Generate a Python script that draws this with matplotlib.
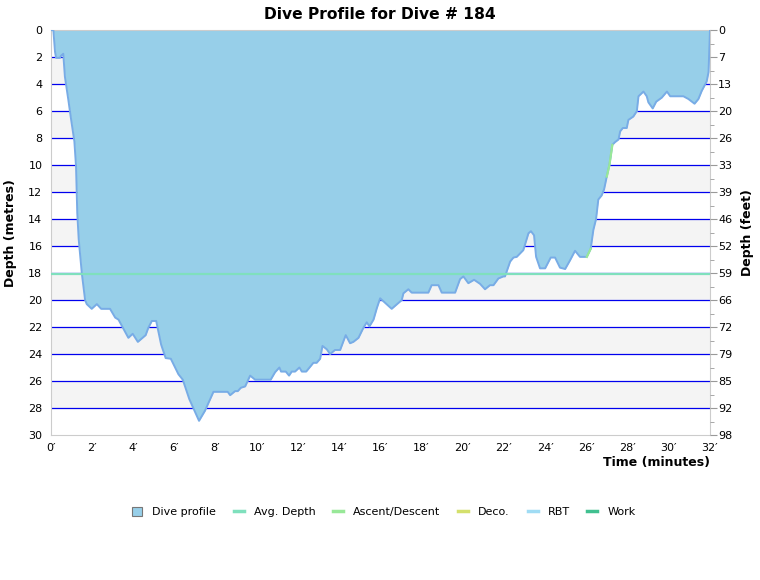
import numpy as np
import matplotlib
matplotlib.use("Agg")
import matplotlib.pyplot as plt
from matplotlib.lines import Line2D
from matplotlib.patches import Patch

# ── data ──
time_min = [0, 0.13, 0.21, 0.26, 0.45, 0.5, 0.61, 0.69, 0.86, 0.97, 1.07, 1.15, 1.23,
            1.29, 1.36, 1.51, 1.67, 1.75, 1.99, 2.24, 2.45, 2.88, 3.13, 3.29, 3.77,
            3.98, 4.23, 4.61, 4.74, 4.91, 5.12, 5.36, 5.58, 5.83, 6.2, 6.41, 6.73,
            7.2, 7.49, 7.9, 8.59, 8.71, 8.95, 9.08, 9.23, 9.44, 9.68, 9.92, 10.68,
            10.89, 11.1, 11.18, 11.41, 11.57, 11.7, 11.86, 12.07, 12.19, 12.4, 12.51,
            12.75, 12.91, 13.08, 13.19, 13.4, 13.56, 13.8, 14.05, 14.32, 14.53, 14.69,
            14.94, 15.18, 15.34, 15.47, 15.67, 15.83, 15.99, 16.55, 17.04, 17.12,
            17.36, 17.52, 18.33, 18.49, 18.82, 18.98, 19.63, 19.87, 20.03, 20.27,
            20.55, 20.84, 21.08, 21.32, 21.49, 21.73, 21.97, 22.05, 22.3, 22.46,
            22.62, 22.94, 23.02, 23.19, 23.31, 23.46, 23.56, 23.75, 24.0, 24.27,
            24.48, 24.72, 24.97, 25.21, 25.45, 25.69, 26.02, 26.21, 26.34, 26.47,
            26.58, 26.74, 26.86, 26.99, 27.12, 27.26, 27.39, 27.56, 27.64, 27.77,
            27.96, 28.04, 28.28, 28.45, 28.53, 28.77, 28.93, 29.01, 29.22, 29.39,
            29.66, 29.91, 30.07, 30.71, 30.95, 31.25, 31.44, 31.6, 31.84, 31.93, 32.0]
depth_m = [0, 0, 1.6, 2.05, 2.05, 1.9, 1.75, 3.45, 5.2, 6.4, 7.4, 8.25, 10.1,
           13.55, 15.5, 18.0, 20.0, 20.3, 20.65, 20.3, 20.65, 20.65, 21.3, 21.45, 22.8,
           22.5, 23.1, 22.6, 22.05, 21.55, 21.55, 23.3, 24.3, 24.35, 25.5, 25.9, 27.35,
           28.95, 28.2, 26.8, 26.8, 27.05, 26.75, 26.75, 26.5, 26.4, 25.6, 25.9, 25.9,
           25.35, 25.0, 25.3, 25.3, 25.6, 25.3, 25.3, 25.0, 25.3, 25.3, 25.1,
           24.65, 24.65, 24.35, 23.4, 23.65, 24.0, 23.7, 23.7, 22.6, 23.2, 23.1,
           22.8, 22.05, 21.65, 21.95, 21.45, 20.6, 19.87, 20.65, 20.0, 19.5,
           19.2, 19.45, 19.45, 18.9, 18.9, 19.45, 19.45, 18.45, 18.25, 18.75,
           18.5, 18.8, 19.2, 18.9, 18.9, 18.4, 18.25, 18.25, 17.15, 16.85,
           16.8, 16.3, 15.9, 15.05, 14.9, 15.2, 16.8, 17.65, 17.65, 16.85,
           16.85, 17.6, 17.7, 17.05, 16.35, 16.8, 16.8, 16.2, 14.8, 14.0,
           12.55, 12.25, 11.8, 10.85, 9.98, 8.5, 8.3, 8.1, 7.5, 7.25,
           7.25, 6.65, 6.4, 6.0, 4.9, 4.55, 4.9, 5.35, 5.8, 5.3,
           5.0, 4.55, 4.9, 4.9, 5.1, 5.45, 5.1, 4.5, 3.8, 3.1, 0]
avg_depth = 18.1
ascent_spans = [(26.0, 26.22), (26.97, 27.27)]

x_ticks = list(range(0, 33, 2))
x_labels = [f"{v}\u2032" for v in x_ticks]
y_ticks = list(range(0, 31, 2))
feet_labels = ["0", "7", "13", "20", "26", "33", "39", "46", "52", "59",
               "66", "72", "79", "85", "92", "98"]

legend_names = ["Dive profile", "Avg. Depth", "Ascent/Descent", "Deco.", "RBT", "Work"]
legend_colors = ["#97cfe9", "#7fe0bd", "#98e898", "#d4e06c", "#a0dcf4", "#40c090"]

FILL = "#97cfe9"
EDGE = "#78ace6"
GRID = "#0000ee"

t = np.array(time_min)
d = np.array(depth_m)

fig = plt.figure(figsize=(7.6, 5.8), dpi=100)
ax = fig.add_axes([0.0667, 0.25, 0.8675, 0.698])

ax.set_xlim(0, 32)
ax.set_ylim(30, 0)

# alternating bands + blue grid
for y0 in range(2, 30, 4):
    ax.axhspan(y0, y0 + 2, color="#f4f4f4", lw=0, zorder=0)
for y in range(2, 30, 2):
    ax.axhline(y, color=GRID, lw=0.9, zorder=1)

ax.fill_between(t, 0, d, color=FILL, lw=0, zorder=2)
ax.plot(t, d, color=EDGE, lw=1.4, zorder=3)
for a, b in ascent_spans:
    m = (t >= a) & (t <= b)
    ax.plot(t[m], d[m], color=legend_colors[2], lw=1.6, zorder=4)

ax.axhline(avg_depth, color=legend_colors[1], lw=1.6, zorder=4)

for s in ["left", "bottom", "right", "top"]:
    ax.spines[s].set_color("#cccccc")
ax.set_xticks(x_ticks)
ax.set_xticklabels(x_labels, fontsize=8)
ax.set_yticks(y_ticks)
ax.set_yticklabels([str(v) for v in y_ticks], fontsize=8)
ax.tick_params(axis="both", length=0, pad=6)
ax.set_xlabel("Time (minutes)", fontsize=9, fontweight="bold", loc="right", labelpad=2)
ax.set_ylabel("Depth (metres)", fontsize=9, fontweight="bold", labelpad=8)

ax2 = ax.twinx()
ax2.set_ylim(30, 0)
ax2.set_yticks(y_ticks)
ax2.set_yticklabels(feet_labels, fontsize=8)
ax2.set_yticks(range(1, 30, 2), minor=True)
ax2.tick_params(axis="y", which="major", length=5, color="#999999", pad=1)
ax2.tick_params(axis="y", which="minor", length=3, color="#999999")
for s in ["left", "bottom", "right", "top"]:
    ax2.spines[s].set_visible(False)
ax2.set_ylabel("Depth (feet)", fontsize=9, fontweight="bold", labelpad=6)

ax.set_title("Dive Profile for Dive # 184", fontsize=11.2, fontweight="bold", pad=8)

handles = [Patch(facecolor=legend_colors[0], edgecolor="#777777", lw=0.8)]
handles += [Line2D([0], [0], color=c, lw=2.5) for c in legend_colors[1:]]
fig.legend(handles, legend_names, loc="center", bbox_to_anchor=(0.505, 0.117),
           ncol=6, frameon=False, fontsize=8, handlelength=0.9, handleheight=0.8,
           columnspacing=1.6, handletextpad=0.9)

fig.savefig("out.png", dpi=100)
